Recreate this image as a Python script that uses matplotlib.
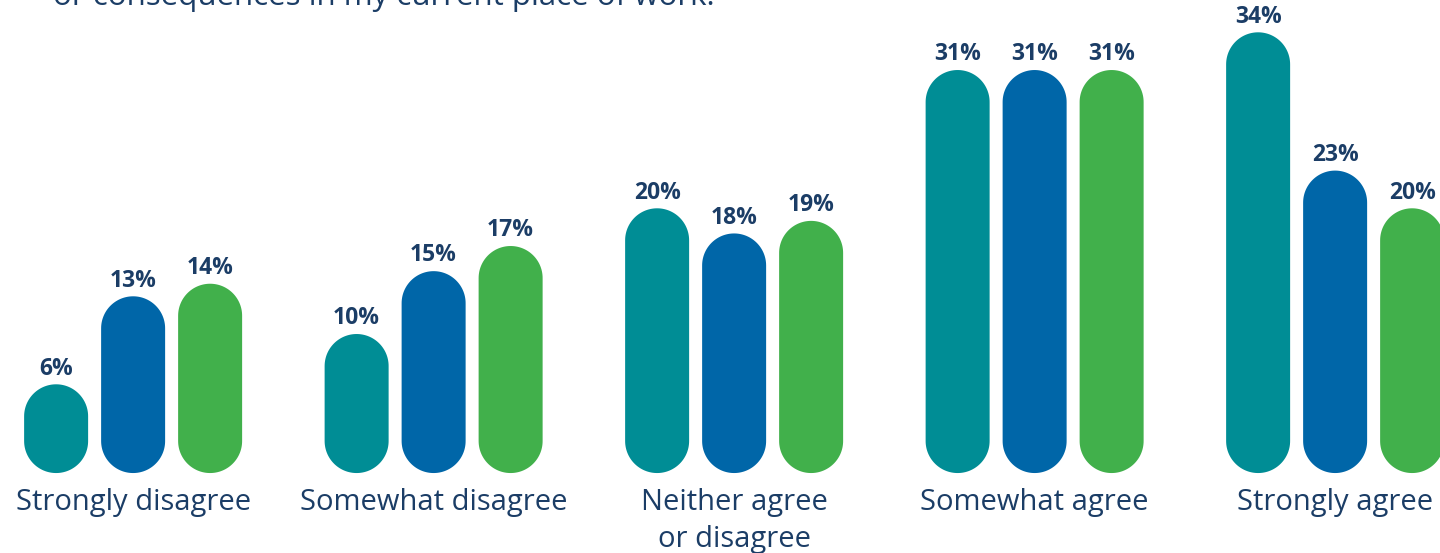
import numpy as np
import matplotlib
matplotlib.use('Agg')
import matplotlib.pyplot as plt
from matplotlib.patches import Polygon

plt.rcParams['font.family'] = ['Open Sans', 'DejaVu Sans']

categories = ['Strongly disagree', 'Somewhat disagree', 'Neither agree\nor disagree',
              'Somewhat agree', 'Strongly agree']
series_a = [6, 10, 20, 31, 34]
series_b = [13, 15, 18, 31, 23]
series_c = [14, 17, 19, 31, 20]
colors = ['#008d95', '#0066a8', '#41b04b']
navy = '#1b3d66'

fig = plt.figure(figsize=(14.4, 5.53), dpi=100)
ax = fig.add_axes([0, 0, 1, 1])
ax.set_xlim(-0.443, 4.349)
ax.set_ylim(-7.42, 36.57)
ax.axis('off')

px_x = 1440 / (4.349 + 0.443)   # pixels per x unit
px_y = 553 / (36.57 + 7.42)     # pixels per y unit
width = 64 / px_x
offset = 77 / px_x
base = -1.06
r_x = width / 2
r_y = r_x * px_x / px_y         # radius of round end in y units

t = np.linspace(0, np.pi, 60)

def pill(x, top, color):
    # one closed outline: top half circle + bottom half circle
    up = np.column_stack([x + r_x * np.cos(t), top - r_y + r_y * np.sin(t)])
    down = np.column_stack([x - r_x * np.cos(t), base + r_y - r_y * np.sin(t)])
    ax.add_patch(Polygon(np.vstack([up, down]), closed=True,
                         facecolor=color, edgecolor='none'))

for j, vals in enumerate([series_a, series_b, series_c]):
    for i, v in enumerate(vals):
        x = i + (j - 1) * offset
        pill(x, v, colors[j])
        ax.annotate('%d%%' % v, (x, v), xytext=(0, 7), textcoords='offset points',
                    ha='center', va='baseline', fontsize=16.5, fontweight='bold', color=navy)

# category names, one line at a time (37 px line step)
for i, c in enumerate(categories):
    for k, line in enumerate(c.split('\n')):
        ax.text(i, 1 - (510 + 37 * k) / 553, line, transform=ax.get_xaxis_transform(),
                ha='center', va='baseline', fontsize=21, color=navy)

fig.text(53 / 1440, 1 - 5 / 553, 'or consequences in my current place of work.',
         ha='left', va='baseline', fontsize=22.5, color=navy)

fig.savefig('out.png', dpi=100)
